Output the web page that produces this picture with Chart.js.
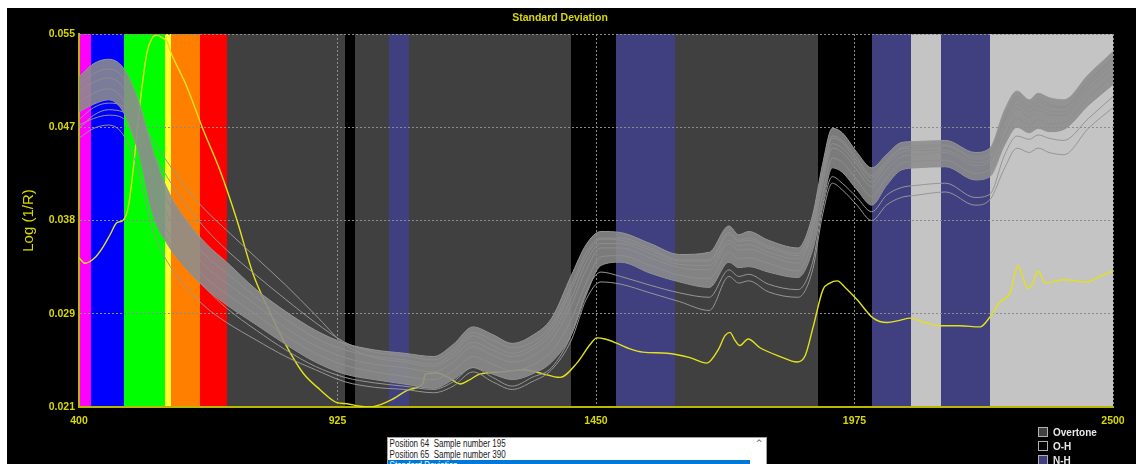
<!DOCTYPE html>
<html><head><meta charset="utf-8">
<script src="https://cdn.jsdelivr.net/npm/chart.js@4.4.1/dist/chart.umd.min.js"></script>
<style>
html,body{margin:0;padding:0;background:#fff;width:1136px;height:464px;overflow:hidden;}
#panel{position:absolute;left:7px;top:8px;width:1129px;height:456px;background:#000;}
#wrap{position:absolute;left:0;top:0;width:1136px;height:464px;}
#list{position:absolute;left:387px;top:437px;width:378px;height:40px;background:#fff;border:1px solid #a0a0a0;overflow:hidden;font-family:"Liberation Sans",Arial,sans-serif;font-size:10px;color:#1a1a1a;}
.row{height:11px;line-height:11px;width:362px;}
.row span{display:inline-block;white-space:pre;padding-left:2px;transform:scaleX(0.8);transform-origin:left center;}
.row.sel{background:#0078d7;color:#fff;}
#scroll{position:absolute;right:0;top:0;width:14px;height:100%;background:#fff;font-family:"DejaVu Sans",sans-serif;font-size:8px;line-height:11px;text-align:center;color:#505050;}
#legend{position:absolute;left:1038px;top:425px;font-family:"Liberation Sans",Arial,sans-serif;font-weight:bold;font-size:10px;color:#e8e8e8;}
.li{height:14px;display:flex;align-items:center;}
.sw{width:8px;height:8px;border:1px solid #b0b0b0;margin-right:5px;}
</style></head>
<body>
<div id="panel"></div>
<div id="wrap"><canvas id="c" width="1136" height="464"></canvas></div>
<div id="list">
  <div class="row"><span>Position 64  Sample number 195</span></div>
  <div class="row"><span>Position 65  Sample number 390</span></div>
  <div class="row sel"><span>Standard Deviation</span></div>
  <div id="scroll">^</div>
</div>
<div id="legend">
  <div class="li"><div class="sw" style="background:#404040"></div>Overtone</div>
  <div class="li"><div class="sw" style="background:#000000"></div>O-H</div>
  <div class="li"><div class="sw" style="background:#404080"></div>N-H</div>
</div>
<script>
// ---- data ----
const xTickValues = [400, 925, 1450, 1975, 2500];
const xTickLabels = ['400', '925', '1450', '1975', '2500'];
const yTickValues = [0.021, 0.0295, 0.038, 0.0465, 0.055];
const yTickLabels = ['0.021', '0.029', '0.038', '0.047', '0.055'];

const bandStart = [400, 424, 491, 575, 587, 646, 701, 940, 961, 1030, 1070, 1400, 1490, 1610, 1900, 2010, 2090, 2150, 2250];
const bandEnd   = [424, 491, 575, 587, 646, 701, 940, 961, 1030, 1070, 1400, 1490, 1610, 1900, 2010, 2090, 2150, 2250, 2500];
const bandColor = ['#ff00ff','#0000ff','#00ff00','#ffff30','#ff8000','#ff0000','#404040','#000000','#404040','#404080','#404040','#000000','#404080','#404040','#000000','#404080','#c4c4c4','#404080','#c4c4c4'];

const wl = [400,430,460,490,520,550,580,620,660,700,760,820,880,940,1000,1060,1120,1160,1200,1240,1280,1320,1360,1400,1430,1460,1500,1560,1620,1680,1720,1740,1760,1800,1860,1890,1910,1930,1950,1980,2010,2040,2070,2100,2160,2220,2250,2280,2305,2330,2348,2370,2400,2450,2500];

const sA = [0.0511,0.0523,0.0527,0.0519,0.0490, 0.0444,0.0408,0.0379,0.0358,0.0342, 0.0317,0.0297,0.0280,0.0268,0.0262, 0.0259,0.0256,0.0267,0.0283,0.0276, 0.0268,0.0275,0.0291,0.0330,0.0358, 0.0370,0.0369,0.0359,0.0349,0.0351, 0.0375,0.0367,0.0370,0.0362,0.0355, 0.0385,0.0431,0.0464,0.0460,0.0442, 0.0428,0.0440,0.0451,0.0452,0.0453, 0.0442,0.0446,0.0481,0.0498,0.0490, 0.0496,0.0492,0.0490,0.0513,0.0534];
const sB = [0.0504,0.0514,0.0518,0.0510,0.0480, 0.0430,0.0398,0.0368,0.0347,0.0332, 0.0310,0.0290,0.0273,0.0262,0.0256, 0.0253,0.0249,0.0259,0.0275,0.0266, 0.0259,0.0265,0.0281,0.0317,0.0347, 0.0363,0.0362,0.0353,0.0343,0.0343, 0.0367,0.0361,0.0362,0.0355,0.0348, 0.0378,0.0422,0.0455,0.0451,0.0434, 0.0419,0.0433,0.0445,0.0446,0.0448, 0.0436,0.0440,0.0472,0.0490,0.0482, 0.0488,0.0484,0.0483,0.0506,0.0527];
const sC = [0.0497,0.0506,0.0510,0.0501,0.0470, 0.0417,0.0385,0.0358,0.0337,0.0323, 0.0303,0.0282,0.0266,0.0255,0.0249, 0.0246,0.0242,0.0251,0.0265,0.0257, 0.0251,0.0256,0.0271,0.0303,0.0335, 0.0355,0.0355,0.0346,0.0337,0.0335, 0.0359,0.0353,0.0354,0.0348,0.0341, 0.0370,0.0412,0.0446,0.0442,0.0426, 0.0411,0.0426,0.0438,0.0440,0.0442, 0.0430,0.0434,0.0464,0.0482,0.0474, 0.0481,0.0476,0.0476,0.0499,0.0519];
const sD = [0.0488,0.0496,0.0500,0.0490,0.0458, 0.0400,0.0370,0.0346,0.0327,0.0313, 0.0294,0.0275,0.0259,0.0248,0.0242, 0.0238,0.0235,0.0243,0.0256,0.0249, 0.0243,0.0248,0.0261,0.0290,0.0323, 0.0347,0.0348,0.0339,0.0330,0.0327, 0.0351,0.0345,0.0346,0.0341,0.0334, 0.0362,0.0403,0.0437,0.0433,0.0417, 0.0402,0.0419,0.0432,0.0434,0.0435, 0.0423,0.0427,0.0456,0.0473,0.0467, 0.0472,0.0468,0.0469,0.0492,0.0512];
const sE = [0.0479,0.0486,0.0490,0.0479,0.0444, 0.0385,0.0358,0.0335,0.0317,0.0303, 0.0285,0.0267,0.0251,0.0240,0.0235, 0.0231,0.0227,0.0235,0.0246,0.0240, 0.0235,0.0240,0.0251,0.0276,0.0312, 0.0339,0.0342,0.0332,0.0324,0.0319, 0.0342,0.0337,0.0338,0.0333,0.0328, 0.0353,0.0394,0.0428,0.0424,0.0408, 0.0394,0.0412,0.0426,0.0428,0.0429, 0.0417,0.0420,0.0449,0.0465,0.0460, 0.0464,0.0461,0.0463,0.0485,0.0504];
const sF = [0.0467,0.0473,0.0476,0.0473,0.0444, 0.0394,0.0362,0.0337,0.0317,0.0300, 0.0280,0.0262,0.0247,0.0237,0.0232, 0.0229,0.0226,0.0233,0.0246,0.0237, 0.0229,0.0237,0.0246,0.0276,0.0315, 0.0333,0.0329,0.0321,0.0314,0.0310, 0.0335,0.0329,0.0331,0.0322,0.0317, 0.0342,0.0391,0.0420,0.0414,0.0401, 0.0388,0.0403,0.0410,0.0412,0.0414, 0.0401,0.0404,0.0440,0.0457,0.0454, 0.0458,0.0455,0.0453,0.0473,0.0493];
const sG = [0.0455,0.0464,0.0467,0.0458,0.0426, 0.0371,0.0342,0.0318,0.0300,0.0287, 0.0271,0.0256,0.0244,0.0233,0.0228, 0.0226,0.0223,0.0229,0.0242,0.0233, 0.0226,0.0233,0.0244,0.0271,0.0308, 0.0324,0.0322,0.0314,0.0306,0.0298, 0.0329,0.0323,0.0325,0.0315,0.0310, 0.0335,0.0385,0.0414,0.0408,0.0394, 0.0380,0.0394,0.0401,0.0403,0.0406, 0.0394,0.0399,0.0428,0.0446,0.0442, 0.0446,0.0442,0.0440,0.0464,0.0483];
const sH = [0.0464,0.0476,0.0481,0.0479,0.0472, 0.0453,0.0433,0.0408,0.0388,0.0371, 0.0346,0.0321,0.0294,0.0267,0.0255, 0.0251,0.0247,0.0256,0.0269,0.0262, 0.0256,0.0262,0.0277,0.0309,0.0342, 0.0359,0.0359,0.0350,0.0340,0.0339, 0.0362,0.0357,0.0358,0.0351,0.0345, 0.0373,0.0417,0.0450,0.0446,0.0431, 0.0415,0.0431,0.0442,0.0444,0.0444, 0.0433,0.0436,0.0470,0.0486,0.0479, 0.0484,0.0480,0.0479,0.0503,0.0524];
const sI = [0.0472,0.0483,0.0487,0.0484,0.0470, 0.0442,0.0419,0.0393,0.0371,0.0353, 0.0330,0.0308,0.0287,0.0269,0.0260, 0.0257,0.0253,0.0262,0.0278,0.0271, 0.0264,0.0269,0.0285,0.0321,0.0351, 0.0364,0.0364,0.0355,0.0344,0.0344, 0.0369,0.0362,0.0364,0.0357,0.0350, 0.0379,0.0424,0.0457,0.0453,0.0437, 0.0421,0.0435,0.0446,0.0448,0.0449, 0.0438,0.0442,0.0475,0.0493,0.0484, 0.0491,0.0486,0.0484,0.0508,0.0528];

const sdWl  = [400,412,432,449,463,477,489,500,510,524,538,548,558,571,579,585,619,652,686,721,753,788,822,855,889,924,944,967,991,1032,1072,1099,1103,1127,1150,1174,1194,1214,1261,1302,1336,1377,1411,1438,1452,1468,1493,1519,1545,1594,1641,1675,1698,1712,1722,1732,1742,1759,1783,1824,1858,1875,1891,1911,1925,1940,1956,1980,2013,2041,2067,2088,2118,2149,2189,2230,2250,2271,2291,2307,2317,2327,2337,2348,2362,2399,2448,2468,2500];
const sdVal = [0.0346,0.0341,0.0346,0.0356,0.0367,0.0378,0.0380,0.0392,0.0426,0.0487,0.0533,0.0546,0.0549,0.0546,0.0543,0.0535,0.0502,0.0463,0.0426,0.0380,0.0332,0.0296,0.0265,0.0241,0.0226,0.0214,0.0213,0.0211,0.0210,0.0216,0.0226,0.0232,0.0240,0.0241,0.0237,0.0231,0.0235,0.0240,0.0242,0.0244,0.0241,0.0237,0.0250,0.0267,0.0273,0.0272,0.0268,0.0263,0.0260,0.0259,0.0255,0.0250,0.0262,0.0275,0.0278,0.0271,0.0266,0.0272,0.0264,0.0256,0.0251,0.0257,0.0283,0.0317,0.0323,0.0325,0.0319,0.0308,0.0291,0.0287,0.0289,0.0291,0.0287,0.0284,0.0284,0.0283,0.0292,0.0306,0.0314,0.0339,0.0328,0.0318,0.0323,0.0334,0.0323,0.0326,0.0324,0.0328,0.0334];

// ---- chart ----
const YEL = '#d8d800';
const FONT = '"Liberation Sans", Arial, sans-serif';
const pts = arr => wl.map((w, i) => ({x: w, y: arr[i]}));
const grayLine = (arr, extra) => Object.assign({
  data: pts(arr), borderColor: 'rgb(150,150,150)', borderWidth: 1,
  pointRadius: 0, cubicInterpolationMode: 'monotone', fill: false
}, extra || {});

const bandPlugin = {
  id: 'bands',
  beforeDraw(chart) {
    const {ctx, chartArea: a, scales: {x}} = chart;
    ctx.save();
    for (let i = 0; i < bandStart.length; i++) {
      const x0 = Math.round(x.getPixelForValue(bandStart[i]));
      const x1 = Math.round(x.getPixelForValue(bandEnd[i]));
      ctx.fillStyle = bandColor[i];
      ctx.fillRect(x0, a.top, x1 - x0, a.bottom - a.top);
    }
    ctx.restore();
  }
};

new Chart(document.getElementById('c'), {
  type: 'line',
  data: {
    datasets: [
      grayLine(sA, {fill: 4, backgroundColor: 'rgba(140,140,140,0.88)'}),
      grayLine(sB), grayLine(sC), grayLine(sD), grayLine(sE),
      grayLine(sF), grayLine(sG), grayLine(sH), grayLine(sI),
      {
        data: sdWl.map((w, i) => ({x: w, y: sdVal[i]})),
        borderColor: '#e2e21c', borderWidth: 1.4, pointRadius: 0,
        cubicInterpolationMode: 'monotone', fill: false
      }
    ]
  },
  options: {
    responsive: false, animation: false, devicePixelRatio: 1,
    layout: {padding: {left: 7, top: 8, right: 23, bottom: 0}},
    plugins: {
      legend: {display: false}, tooltip: {enabled: false},
      title: {
        display: true, text: 'Standard Deviation', color: YEL,
        font: {family: FONT, size: 10.5, weight: 'bold', lineHeight: 1.2},
        padding: {top: 4, bottom: 9.4}
      }
    },
    scales: {
      x: {
        type: 'linear', min: 400, max: 2500,
        afterBuildTicks: s => { s.ticks = xTickValues.map(v => ({value: v})); },
        afterFit: s => { s.height = 57; },
        ticks: {
          color: YEL, padding: 9, autoSkip: false, maxRotation: 0,
          font: {family: FONT, size: 10.5, weight: 'bold', lineHeight: 1},
          callback: (v, i) => xTickLabels[i]
        },
        grid: {color: '#8c8c8c', lineWidth: 1, drawTicks: false},
        border: {color: '#b8b800', width: 2, dash: [2, 2]},
        title: {
          display: true, text: 'Wavelengths', color: YEL,
          font: {family: FONT, size: 10.5, weight: 'bold', lineHeight: 1},
          padding: {top: 0, bottom: 0}
        }
      },
      y: {
        type: 'linear', min: 0.021, max: 0.055,
        afterBuildTicks: s => { s.ticks = yTickValues.map(v => ({value: v})); },
        afterFit: s => { s.width = 72; },
        ticks: {
          color: YEL, padding: 4, autoSkip: false,
          font: {family: FONT, size: 10.5, weight: 'bold', lineHeight: 1},
          callback: (v, i) => yTickLabels[i]
        },
        grid: {color: '#8c8c8c', lineWidth: 1, drawTicks: false},
        border: {color: '#b8b800', width: 2, dash: [2, 2]},
        title: {
          display: true, text: 'Log (1/R)', color: YEL,
          font: {family: FONT, size: 15, weight: 'normal', lineHeight: 1.2},
          padding: {top: 13, bottom: 0}
        }
      }
    }
  },
  plugins: [bandPlugin]
});
</script>
</body></html>
